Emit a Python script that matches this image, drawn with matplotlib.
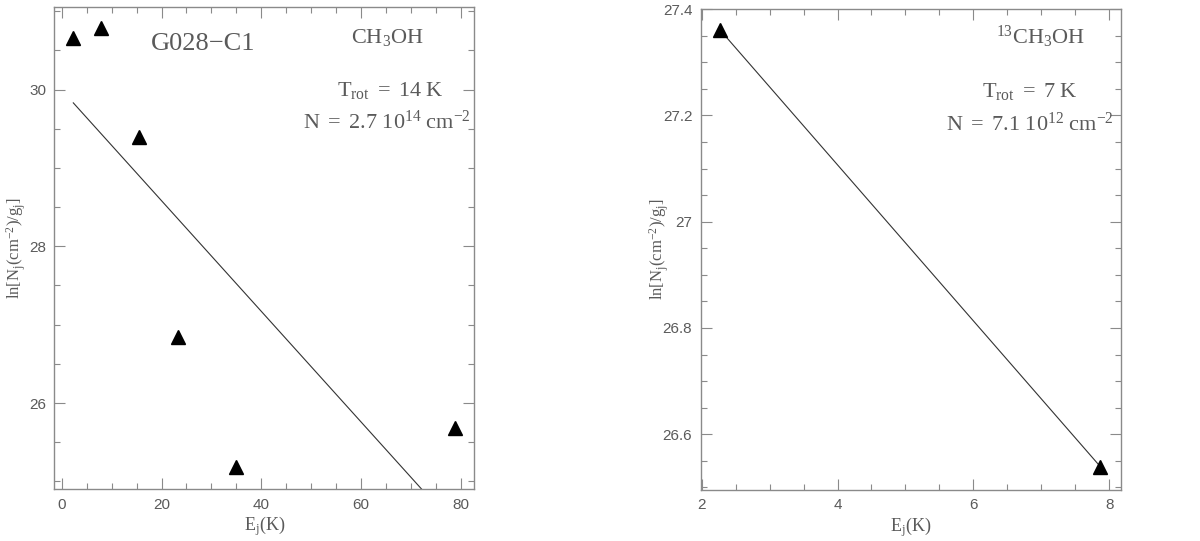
import matplotlib
matplotlib.use("Agg")
import matplotlib.pyplot as plt
from matplotlib.ticker import MultipleLocator

# ---- data ----
# left panel: CH3OH rotational diagram
e_up_12 = [2.3, 7.9, 15.5, 23.4, 35.0, 78.9]
ln_n_12 = [30.66, 30.78, 29.40, 26.84, 25.19, 25.68]
fit_x_12 = [2.3, 72.2]
fit_y_12 = [29.83, 24.90]

# right panel: 13CH3OH rotational diagram
e_up_13 = [2.27, 7.87]
ln_n_13 = [27.361, 26.539]

source_name = "G028\u2212C1"
labels_12 = [r"$\mathrm{CH_3OH}$", r"$\mathrm{T_{rot}\ =\ 14\ K}$",
             r"$\mathrm{N\ =\ 2.7\ 10^{14}\ cm^{-2}}$"]
labels_13 = [r"$\mathrm{^{13}CH_3OH}$", r"$\mathrm{T_{rot}\ =\ 7\ K}$",
             r"$\mathrm{N\ =\ 7.1\ 10^{12}\ cm^{-2}}$"]

plt.rcParams["mathtext.fontset"] = "custom"
plt.rcParams["mathtext.rm"] = "Liberation Serif"
plt.rcParams["mathtext.it"] = "Liberation Serif:italic"
plt.rcParams["font.family"] = ["Liberation Sans", "DejaVu Sans"]

spine_col = "#8a8a8a"
text_col = "#5a5a5a"

fig = plt.figure(figsize=(12, 5.41), dpi=100)
ax1 = fig.add_axes([0.0453, 0.0956, 0.3498, 0.891])
ax2 = fig.add_axes([0.5839, 0.0943, 0.35, 0.8896])


def style_axes(ax, ypad):
    for s in ax.spines.values():
        s.set_color(spine_col)
        s.set_linewidth(1.0)
    ax.tick_params(which="both", direction="in", top=True, right=True,
                   color=spine_col, labelcolor=text_col, labelsize=11)
    ax.tick_params(which="major", length=8, width=0.8, pad=6)
    ax.tick_params(which="minor", length=4, width=0.8)
    ax.set_xlabel(r"$\mathrm{E_j(K)}$", fontsize=13, color=text_col, labelpad=2)
    ax.set_ylabel(r"$\mathrm{ln[N_j(cm^{-2})/g_j]}$", fontsize=12,
                  color=text_col, labelpad=ypad)


# left panel
ax1.plot(e_up_12, ln_n_12, "^", color="black", ms=10, ls="none")
ax1.plot(fit_x_12, fit_y_12, color="#333333", lw=0.8)
ax1.set_xlim(-1.5, 82.7)
ax1.set_ylim(24.9, 31.05)
ax1.xaxis.set_major_locator(MultipleLocator(20))
ax1.xaxis.set_minor_locator(MultipleLocator(5))
ax1.yaxis.set_major_locator(MultipleLocator(2))
ax1.yaxis.set_minor_locator(MultipleLocator(0.5))
style_axes(ax1, 1)
ax1.text(0.354, 0.924, source_name, transform=ax1.transAxes, ha="center",
         va="center", fontsize=19, color=text_col, family="Liberation Serif")
ax1.text(0.793, 0.938, labels_12[0], transform=ax1.transAxes, ha="center",
         va="center", fontsize=16, color=text_col)
ax1.text(0.80, 0.828, labels_12[1], transform=ax1.transAxes, ha="center",
         va="center", fontsize=16, color=text_col)
ax1.text(0.793, 0.762, labels_12[2], transform=ax1.transAxes, ha="center",
         va="center", fontsize=16, color=text_col)

# right panel
ax2.plot(e_up_13, ln_n_13, color="#333333", lw=0.8)
ax2.plot(e_up_13, ln_n_13, "^", color="black", ms=10, ls="none")
ax2.set_xlim(1.985, 8.17)
ax2.set_ylim(26.495, 27.401)
ax2.xaxis.set_major_locator(MultipleLocator(2))
ax2.xaxis.set_minor_locator(MultipleLocator(0.5))
ax2.yaxis.set_major_locator(MultipleLocator(0.2))
ax2.yaxis.set_minor_locator(MultipleLocator(0.05))
ax2.yaxis.set_major_formatter(plt.FuncFormatter(lambda v, p: f"{v:g}"))
style_axes(ax2, -6)
ax2.text(0.808, 0.941, labels_13[0], transform=ax2.transAxes, ha="center",
         va="center", fontsize=16, color=text_col)
ax2.text(0.784, 0.827, labels_13[1], transform=ax2.transAxes, ha="center",
         va="center", fontsize=16, color=text_col)
ax2.text(0.784, 0.761, labels_13[2], transform=ax2.transAxes, ha="center",
         va="center", fontsize=16, color=text_col)

fig.savefig("out.png", dpi=100)
